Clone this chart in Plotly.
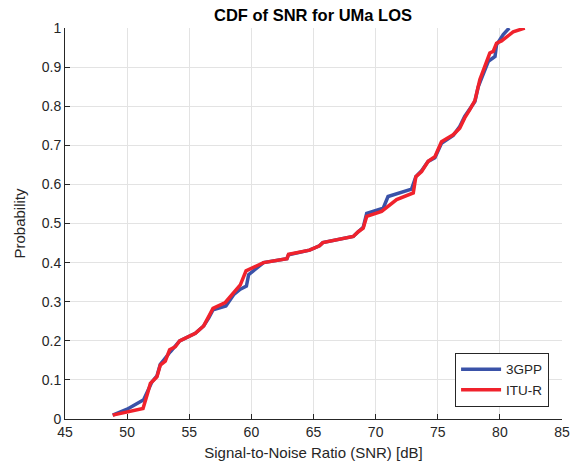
import plotly.graph_objects as go

# 3GPP curve (SNR in dB, cumulative probability)
snr_3gpp = [48.84, 50.0, 51.33, 51.66, 52.0, 52.4, 52.67, 53.48, 53.88, 54.23,
            55.49, 56.16, 56.56, 56.91, 57.95, 58.57, 59.11, 59.6, 59.78, 60.98,
            62.86, 62.99, 64.68, 65.48, 65.75, 68.2, 68.6, 69.0, 69.28, 70.61,
            71.0, 72.89, 73.24, 73.7, 74.23, 74.77, 75.3, 76.24, 76.77, 77.17,
            77.58, 77.99, 78.26, 79.07, 79.61, 79.73, 80.27, 80.75]
cdf_3gpp = [0.01, 0.025, 0.049, 0.07, 0.095, 0.11, 0.14, 0.172, 0.186, 0.2,
            0.219, 0.238, 0.258, 0.279, 0.289, 0.318, 0.332, 0.34, 0.369, 0.4,
            0.41, 0.42, 0.432, 0.443, 0.451, 0.467, 0.479, 0.49, 0.526, 0.539,
            0.569, 0.588, 0.62, 0.635, 0.659, 0.668, 0.705, 0.725, 0.748, 0.774,
            0.793, 0.812, 0.85, 0.915, 0.927, 0.957, 0.983, 1.0]

# ITU-R curve
snr_itur = [48.84, 51.28, 51.66, 51.87, 52.4, 52.67, 53.07, 53.42, 53.88, 54.23,
            55.49, 56.16, 56.56, 56.91, 57.9, 58.57, 59.11, 59.57, 60.98, 62.86,
            62.99, 64.68, 65.48, 65.75, 68.2, 68.6, 69.0, 69.28, 70.48, 71.69,
            73.03, 73.24, 73.7, 74.23, 74.77, 75.3, 76.24, 76.77, 77.17, 77.58,
            77.99, 78.39, 78.93, 79.19, 79.46, 79.73, 80.13, 81.07, 82.0]
cdf_itur = [0.01, 0.027, 0.067, 0.091, 0.108, 0.138, 0.148, 0.177, 0.185, 0.2,
            0.219, 0.238, 0.262, 0.283, 0.298, 0.322, 0.343, 0.379, 0.4, 0.41,
            0.421, 0.432, 0.443, 0.451, 0.467, 0.479, 0.488, 0.518, 0.531, 0.561,
            0.578, 0.62, 0.633, 0.659, 0.671, 0.709, 0.727, 0.744, 0.77, 0.791,
            0.814, 0.868, 0.91, 0.936, 0.94, 0.961, 0.967, 0.99, 1.0]

x_ticks = [45, 50, 55, 60, 65, 70, 75, 80, 85]
y_ticks = [0, 0.1, 0.2, 0.3, 0.4, 0.5, 0.6, 0.7, 0.8, 0.9, 1]
y_labels = ["0", "0.1", "0.2", "0.3", "0.4", "0.5", "0.6", "0.7", "0.8", "0.9", "1"]

font = "Liberation Sans, Arial, sans-serif"

fig = go.Figure()
fig.add_trace(go.Scatter(x=snr_3gpp, y=cdf_3gpp, mode="lines", name="3GPP",
                         line=dict(color="#3a52a8", width=3.5)))
fig.add_trace(go.Scatter(x=snr_itur, y=cdf_itur, mode="lines", name="ITU-R",
                         line=dict(color="#f0222c", width=3.5)))

fig.update_layout(
    width=578, height=472,
    margin=dict(l=65, r=16, t=28, b=53),
    paper_bgcolor="white", plot_bgcolor="white",
    font=dict(family=font, size=14, color="#262626"),
    title=dict(text="<b>CDF of SNR for UMa LOS</b>", x=0.5415, xanchor="center",
               y=0.968, yanchor="middle", font=dict(size=16.5, color="black")),
    legend=dict(x=0.974, y=0.031, xanchor="right", yanchor="bottom",
                bordercolor="#262626", borderwidth=1, bgcolor="white",
                font=dict(size=13.5, color="#262626"),
                tracegroupgap=0, itemwidth=40),
    showlegend=True,
)

fig.update_xaxes(
    range=[45, 85], tickvals=x_ticks, ticks="inside", ticklen=5,
    tickcolor="#262626", showline=True, linecolor="#262626", linewidth=1,
    showgrid=True, gridcolor="#e3e3e3", zeroline=False, mirror=False,
    automargin=False,
    title=dict(text="Signal-to-Noise Ratio (SNR) [dB]", standoff=8,
               font=dict(size=15, color="#262626")),
)
fig.update_yaxes(
    range=[0, 1], tickvals=y_ticks, ticktext=y_labels, ticks="inside", ticklen=5,
    tickcolor="#262626", showline=True, linecolor="#262626", linewidth=1,
    showgrid=True, gridcolor="#e3e3e3", zeroline=False, mirror=False,
    automargin=False,
    title=dict(text="Probability", standoff=12,
               font=dict(size=15, color="#262626")),
)

# the page's default body margin would shift the figure by 8px
fig.write_html("out.html", config={"displayModeBar": False},
               post_script="document.body.style.margin='0px';")
